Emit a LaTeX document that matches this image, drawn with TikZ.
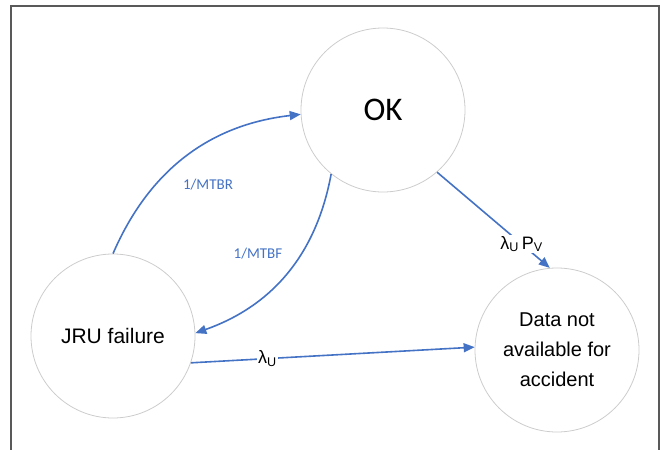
\documentclass[tikz,border=0pt]{standalone}
\usepackage{fontspec}
\setmainfont{Carlito}
\newfontfamily\arialfont{Liberation Sans}
\usetikzlibrary{positioning,arrows.meta,shapes.geometric}
\definecolor{ArrowBlue}{HTML}{4472C4}
\definecolor{RingGray}{HTML}{CCCCCC}

\begin{document}
\begin{tikzpicture}[x=1pt, y=-1pt,
  state/.style={draw=RingGray, line width=0.8pt, circle, minimum size=164pt, inner sep=0pt, align=center},
  flow/.style={draw=ArrowBlue, line width=1.6pt, -{Triangle[length=11pt,width=9pt]}},
  rate/.style={font=\fontsize{15}{17}\selectfont, text=ArrowBlue},
  lam/.style={font=\arialfont\fontsize{18}{20}\selectfont, fill=white, inner sep=1pt}]
\useasboundingbox (0,0) rectangle (667,450);
\draw[black!65, line width=1.5pt] (11,452) -- (11,6) -- (659,6) -- (659,452);
\node[state, font=\fontsize{33}{36}\selectfont] (ok) at (383,110) {OK};
\node[state, font=\arialfont\fontsize{21}{24}\selectfont] (jru) at (113,336) {JRU failure};
\node[state, font=\arialfont\fontsize{20}{30}\selectfont] (data) at (557,350) {Data not\\available for\\accident};
\node[rate] (mtbr) at (208,185) {1/MTBR};
\node[rate] (mtbf) at (258,254) {1/MTBF};
\draw[flow] (jru.north) to[bend left=30] (ok.183);
\draw[flow] (ok.231) to[bend left=30] (jru.2);
\draw[flow] (ok.-49) -- node[lam, pos=0.75] {λ\textsubscript{U}\,P\textsubscript{V}} (data.95);
\draw[flow] (jru.-19) -- node[lam, pos=0.27] {λ\textsubscript{U}} (data.178);
\end{tikzpicture}
\end{document}
